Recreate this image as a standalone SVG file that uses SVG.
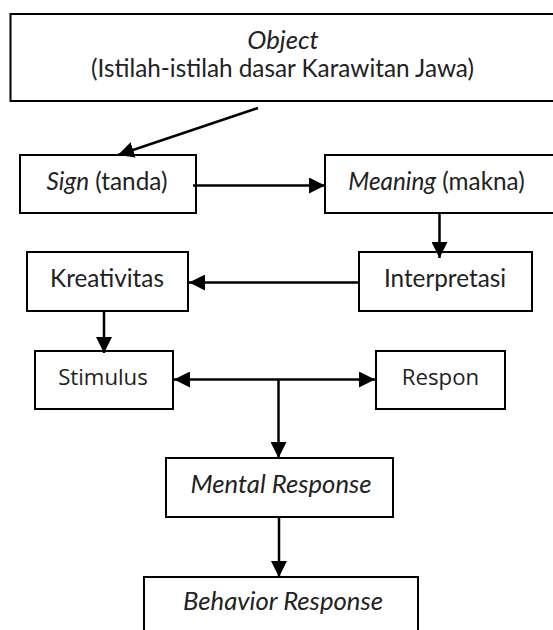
<svg xmlns="http://www.w3.org/2000/svg" width="553" height="630" viewBox="0 0 553 630">
<defs>
<style>
.box{fill:#fff;stroke:#000;stroke-width:2}
.t{font-family:Lato,"Open Sans",sans-serif;font-size:24.3px;fill:#222;text-anchor:middle}
.o{font-family:"Open Sans","Noto Sans",sans-serif;font-size:22.2px;fill:#222;text-anchor:middle}
.i{font-style:italic}
.ii{font-style:italic;font-size:25.7px}
.c{fill:none;stroke:#000;stroke-width:2.5}
</style>
<marker id="ah" markerUnits="userSpaceOnUse" markerWidth="16" markerHeight="16" viewBox="0 0 16 16" refX="16" refY="8" orient="auto-start-reverse">
<path d="M0,0 L16,8 L0,16 z" fill="#000"/>
</marker>
</defs>
<rect width="553" height="630" fill="#fff"/>
<g id="object">
<rect class="box" x="10.5" y="14" width="550" height="87"/>
<text class="t ii" x="283" y="49">Object</text>
<text class="t" x="282.5" y="77">(Istilah-istilah dasar Karawitan Jawa)</text>
</g>
<g id="sign">
<rect class="box" x="20" y="155" width="176" height="58"/>
<text class="t" x="107" y="190"><tspan class="i">Sign</tspan> (tanda)</text>
</g>
<g id="meaning">
<rect class="box" x="325" y="155" width="240" height="58"/>
<text class="t" x="436.5" y="190"><tspan class="i">Meaning</tspan> (makna)</text>
</g>
<g id="interpretasi">
<rect class="box" x="359" y="252" width="173" height="59"/>
<text class="t" x="445" y="287">Interpretasi</text>
</g>
<g id="kreativitas">
<rect class="box" x="27" y="252" width="161" height="59"/>
<text class="t" x="107" y="287">Kreativitas</text>
</g>
<g id="stimulus">
<rect class="box" x="35" y="351" width="138" height="58"/>
<text class="o" x="103" y="385">Stimulus</text>
</g>
<g id="respon">
<rect class="box" x="376" y="351" width="129" height="58"/>
<text class="o" x="440.5" y="385">Respon</text>
</g>
<g id="mental">
<rect class="box" x="166" y="458" width="227" height="59"/>
<text class="t ii" x="281" y="493">Mental Response</text>
</g>
<g id="behavior">
<rect class="box" x="144" y="577" width="274" height="70"/>
<text class="t ii" x="283" y="610">Behavior Response</text>
</g>
<g id="connectors">
<line class="c" x1="258" y1="108" x2="118" y2="155" marker-end="url(#ah)"/>
<line class="c" x1="193" y1="185.5" x2="325" y2="185.5" marker-end="url(#ah)"/>
<line class="c" x1="439.5" y1="213" x2="439.5" y2="258" marker-end="url(#ah)"/>
<line class="c" x1="358" y1="282.5" x2="189" y2="282.5" marker-end="url(#ah)"/>
<line class="c" x1="104" y1="311" x2="104" y2="353" marker-end="url(#ah)"/>
<line class="c" x1="174" y1="379.5" x2="375" y2="379.5" marker-start="url(#ah)" marker-end="url(#ah)"/>
<line class="c" x1="278.5" y1="379.5" x2="278.5" y2="458" marker-end="url(#ah)"/>
<line class="c" x1="279" y1="517" x2="279" y2="577" marker-end="url(#ah)"/>
</g>
</svg>
